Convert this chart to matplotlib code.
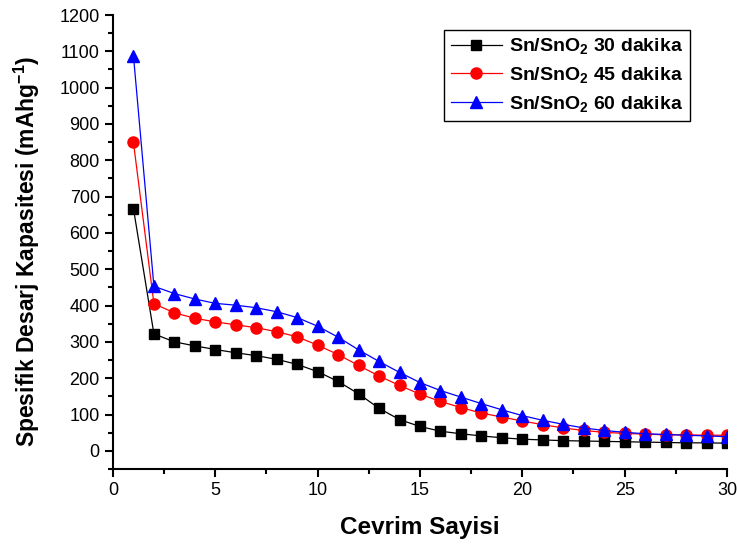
import matplotlib
matplotlib.use("Agg")
import matplotlib.pyplot as plt
from matplotlib.ticker import MultipleLocator

plt.rcParams['font.family'] = ['Liberation Sans', 'DejaVu Sans']
plt.rcParams['mathtext.fontset'] = 'custom'
plt.rcParams['mathtext.rm'] = 'Liberation Sans:bold'
plt.rcParams['mathtext.default'] = 'rm'

# cycle number
cycles = list(range(1, 31))

# discharge capacity (mAh/g) for each anodizing time
cap_30 = [667, 322, 300, 289, 279, 270, 262, 252, 238, 218, 191, 157, 117, 86, 67,
          54, 47, 41, 36, 32, 30, 28, 27, 26, 25, 24, 23, 22, 22, 21]
cap_45 = [849, 405, 380, 365, 355, 347, 339, 328, 314, 291, 265, 235, 206, 180, 156,
          136, 119, 104, 93, 82, 72, 63, 56, 51, 48, 46, 44, 44, 43, 43]
cap_60 = [1088, 453, 433, 418, 406, 401, 394, 383, 367, 343, 313, 278, 246, 216, 188,
          166, 148, 130, 113, 97, 84, 73, 63, 56, 51, 47, 45, 43, 41, 39]

labels = [r'Sn/SnO$_2$ 30 dakika', r'Sn/SnO$_2$ 45 dakika', r'Sn/SnO$_2$ 60 dakika']

fig = plt.figure(figsize=(7.37, 5.5), dpi=100)
ax = fig.add_axes([0.1533, 0.1473, 0.8331, 0.8254])

ax.plot(cycles, cap_30, color='black', lw=0.9, marker='s', ms=7, label=labels[0])
ax.plot(cycles, cap_45, color='red', lw=0.9, marker='o', ms=8, label=labels[1])
ax.plot(cycles, cap_60, color='blue', lw=0.9, marker='^', ms=8.5, label=labels[2])

ax.set_xlim(0, 30)
ax.set_ylim(-50, 1200)
ax.xaxis.set_major_locator(MultipleLocator(5))
ax.xaxis.set_minor_locator(MultipleLocator(2.5))
ax.yaxis.set_major_locator(MultipleLocator(100))
ax.yaxis.set_minor_locator(MultipleLocator(50))

for s in ['top', 'right']:
    ax.spines[s].set_visible(False)
for s in ['left', 'bottom']:
    ax.spines[s].set_linewidth(1.5)

ax.tick_params(which='major', direction='out', length=6, width=1.5, labelsize=13)
ax.tick_params(which='minor', direction='out', length=3.5, width=1.5)

ax.set_xlabel('Cevrim Sayisi', fontsize=17.5, fontweight='bold', labelpad=12)
ax.set_ylabel(r'Spesifik Desarj Kapasitesi (mAhg$^{-1}$)', fontsize=16.5, fontweight='bold')
ax.yaxis.set_label_coords(-0.115, 0.48)

leg = ax.legend(loc='upper right', bbox_to_anchor=(0.94, 0.968), prop={'weight': 'bold', 'size': 14},
                fancybox=False, edgecolor='black', framealpha=1, handlelength=2.6,
                borderpad=0.35, labelspacing=0.45, handletextpad=0.4, borderaxespad=0)
leg.get_frame().set_linewidth(1)

fig.savefig('out.png', dpi=100)
